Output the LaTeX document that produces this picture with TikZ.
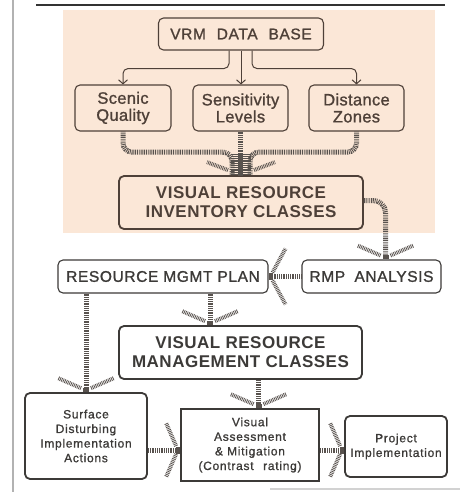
\documentclass[tikz,border=0pt]{standalone}
\usepackage{fontspec}
\setmainfont{Liberation Sans}
\usetikzlibrary{calc,arrows.meta}
\definecolor{peach}{RGB}{251,231,215}
\definecolor{inkbrown}{RGB}{78,64,56}
\definecolor{ink}{RGB}{60,58,56}
\definecolor{hatchc}{RGB}{88,82,78}
\tikzset{
  box/.style={draw=ink, rounded corners=5pt, line width=1.1pt, align=center, inner sep=0pt, text=ink},
  boxtop/.style={box, draw=inkbrown, text=inkbrown},
  thickbox/.style={box, line width=1.8pt},
  hatch/.style={draw=hatchc, line width=5pt, dash pattern=on 0.9pt off 0.9pt},
  hatchray/.style={draw=hatchc, line width=4pt, dash pattern=on 0.8pt off 0.9pt},
  treearrow/.style={draw=inkbrown, line width=1pt, rounded corners=5pt, -{Straight Barb[length=4pt,width=9pt]}},
  bigtxt/.style={font=\fontsize{17}{19}\selectfont\bfseries\addfontfeature{LetterSpace=3}},
  midtxt/.style={font=\fontsize{15.5}{17}\selectfont\addfontfeature{LetterSpace=4,FakeBold=1.2}},
  mixtxt/.style={font=\fontsize{16.5}{17}\selectfont\addfontfeature{LetterSpace=2,FakeBold=1.2}},
  smalltxt/.style={font=\fontsize{12}{14.6}\selectfont\addfontfeature{LetterSpace=6,FakeBold=1}}
}
\newcommand\fandown[1]{%
  \draw[hatchray] ($(#1)+(-5,-4)$) -- ($(#1)+(-28,-14)$);
  \draw[hatchray] ($(#1)+(5,-4)$) -- ($(#1)+(28,-14)$);
  \fill[hatchc] ($(#1)+(-3,-4)$) rectangle ($(#1)+(3,0)$);}
\newcommand\fanfromright[1]{%
  \draw[hatchray] ($(#1)+(4,-4)$) -- ($(#1)+(17,-28)$);
  \draw[hatchray] ($(#1)+(4,4)$) -- ($(#1)+(17,28)$);
  \fill[hatchc] ($(#1)+(0,-3.5)$) rectangle ($(#1)+(4,3.5)$);}
\newcommand\fanfromleft[1]{%
  \draw[hatchray] ($(#1)+(-4,-4)$) -- ($(#1)+(-14,-27)$);
  \draw[hatchray] ($(#1)+(-4,4)$) -- ($(#1)+(-14,27)$);
  \fill[hatchc] ($(#1)+(-4,-3.5)$) rectangle ($(#1)+(0,3.5)$);}
\begin{document}
\begin{tikzpicture}[x=1pt,y=-1pt]
\useasboundingbox (0,0) rectangle (460,492);
\fill[white] (0,0) rectangle (460,492);
% frame
\fill[peach] (63,10) rectangle (435,233);
\draw[gray!60, line width=1.5pt] (13,0) -- (13,492);
\draw[black!80, line width=2.5pt] (36,5) -- (445,5);
\draw[gray!35, line width=1.5pt] (270,489) -- (460,489);
% nodes
\node[boxtop, minimum width=165pt, minimum height=32pt, midtxt] (db) at (241,34) {VRM\hspace{0.7em}DATA\hspace{0.7em}BASE};
\node[boxtop, minimum width=96pt, minimum height=46pt, mixtxt] (sq) at (123,108) {Scenic\\Quality};
\node[boxtop, minimum width=95pt, minimum height=46pt, mixtxt] (sl) at (240.5,108) {Sensitivity\\Levels};
\node[boxtop, minimum width=95pt, minimum height=46pt, mixtxt] (dz) at (356.5,108) {Distance\\Zones};
\node[thickbox, draw=inkbrown, text=inkbrown, minimum width=244pt, minimum height=53pt, bigtxt] (vri) at (241,202.5) {VISUAL RESOURCE\\INVENTORY CLASSES};
\node[box, minimum width=210pt, minimum height=33pt, midtxt] (rmp) at (163,276.5) {RESOURCE MGMT PLAN};
\node[box, minimum width=139pt, minimum height=33pt, midtxt] (rmpa) at (371.5,276.5) {RMP\hspace{0.6em}ANALYSIS};
\node[thickbox, minimum width=243pt, minimum height=53pt, bigtxt] (vrm) at (240.5,352.5) {VISUAL RESOURCE\\MANAGEMENT CLASSES};
\node[thickbox, minimum width=122pt, minimum height=86pt, smalltxt] (sda) at (86,436) {Surface\\Disturbing\\Implementation\\Actions};
\node[thickbox, rounded corners=0pt, minimum width=138pt, minimum height=72pt, smalltxt] (vam) at (250,445) {Visual\\Assessment\\\& Mitigation\\(Contrast\hspace{0.8em}rating)};
\node[thickbox, minimum width=102pt, minimum height=61pt, smalltxt] (pi) at (396,446.5) {Project\\Implementation};
% tree arrows
\draw[treearrow] ([xshift=-12pt]db.south) -- ++(0,18) -| (sq.north);
\draw[treearrow, rounded corners=0pt] (db.south) -- (db.south |- sl.north);
\draw[treearrow] ([xshift=11pt]db.south) -- ++(0,18) -| (dz.north);
% merge into VRI
\draw[hatch, rounded corners=9pt] (sq.south) |- ($(vri.north)+(-9,-23)$) -- ($(vri.north)+(-9,0)$);
\draw[hatch, rounded corners=9pt] (dz.south) |- ($(vri.north)+(9,-23)$) -- ($(vri.north)+(9,0)$);
\draw[hatch] (sl.south) -- (sl.south |- vri.north);
\draw[hatch, line width=20pt] ($(vri.north)+(0,-21)$) -- (vri.north);
\draw[hatchray] ($(vri.north)+(-13,-5)$) -- ($(vri.north)+(-34,-13)$);
\draw[hatchray] ($(vri.north)+(13,-5)$) -- ($(vri.north)+(34,-13)$);
% VRI -> RMP analysis
\coordinate (ra) at ([xshift=14pt]rmpa.north);
\draw[hatch, rounded corners=12pt] ([yshift=2pt]vri.east) -| (ra);
\fandown{ra}
% RMP analysis -> RMP
\draw[hatch] (rmpa.west) -- (rmp.east);
\fanfromright{rmp.east}
% RMP -> VRM classes
\coordinate (rv) at ([xshift=47pt]rmp.south);
\coordinate (rvt) at (rv |- vrm.north);
\draw[hatch] (rv) -- (rvt);
\fandown{rvt}
% RMP -> Surface disturbing
\coordinate (rs) at (rmp.south -| sda.north);
\draw[hatch] (rs) -- (sda.north);
\fandown{sda.north}
% VRM -> Visual assessment
\coordinate (vv) at ([xshift=18pt]vrm.south);
\coordinate (vvt) at (vv |- vam.north);
\draw[hatch] (vv) -- (vvt);
\fandown{vvt}
% Surface -> Visual assessment
\coordinate (vl) at ([yshift=-5pt]vam.west);
\draw[hatch] (vl -| sda.east) -- (vl);
\fanfromleft{vl}
% Visual assessment -> Project
\coordinate (vr) at ([yshift=-5pt]vam.east);
\coordinate (pl) at (vr -| pi.west);
\draw[hatch] (vr) -- (pl);
\fanfromleft{pl}
\end{tikzpicture}
\end{document}
